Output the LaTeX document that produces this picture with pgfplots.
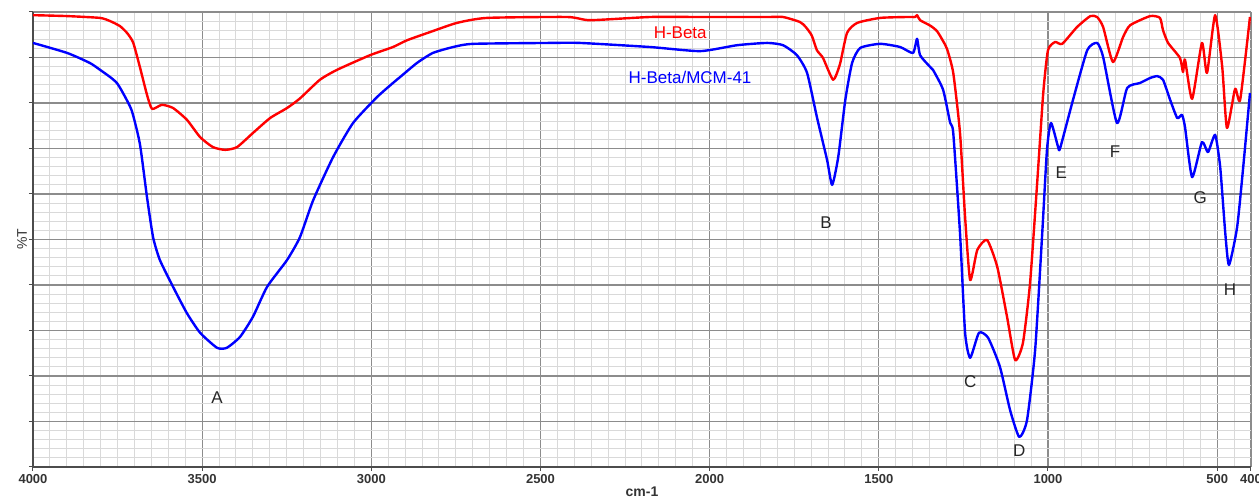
\documentclass[border=0pt]{standalone}
\usepackage{fontspec}
\setmainfont{Liberation Sans}
\usepackage{pgfplots}
\pgfplotsset{compat=1.18}

% FTIR spectra, %T vs wavenumber
\pgfplotstableread{
wn   t
4000 99.3
3899 99.1
3802 98.7
3772 98.0
3743 96.9
3722 95.4
3704 93.3
3684 87.9
3663 81.8
3648 78.7
3619 79.6
3586 78.9
3545 76.3
3506 72.5
3468 70.3
3432 69.7
3397 70.3
3350 73.4
3299 76.7
3249 78.9
3211 81.0
3152 85.1
3101 87.3
3004 90.5
2936 92.3
2894 93.8
2826 95.6
2747 97.6
2658 98.7
2421 98.9
2353 98.2
2176 98.9
2028 98.9
1830 98.9
1783 98.9
1733 97.8
1716 96.7
1698 94.8
1683 91.6
1665 89.9
1635 85.1
1615 88.5
1594 95.4
1564 97.6
1496 98.7
1416 98.9
1393 98.9
1387 99.3
1378 98.2
1348 97.0
1328 95.8
1310 93.6
1298 91.8
1280 86.6
1260 73.4
1245 54.9
1230 41.1
1209 47.7
1180 49.9
1150 44.0
1121 33.0
1097 23.5
1074 27.3
1053 40.4
1032 62.4
1014 82.2
1000 91.6
979  93.4
958  93.0
914  96.7
875  99.1
855  98.9
837  96.7
808  89.0
778  94.5
757  97.1
698  99.1
669  98.7
660  96.0
645  93.2
610  89.9
601  86.8
595  89.5
574  80.9
545  93.2
530  86.6
506  99.3
485  87.9
471  74.5
447  83.1
432  80.7
403  98.9
}\hbeta

\pgfplotstableread{
wn   t
4000 93.2
3899 91.0
3832 88.8
3802 87.3
3772 85.7
3752 84.4
3734 82.2
3708 78.3
3684 71.0
3663 59.3
3645 50.5
3625 45.5
3586 39.6
3545 33.8
3506 29.5
3456 26.2
3427 26.2
3388 28.6
3350 33.0
3308 39.6
3249 45.5
3211 50.5
3172 58.6
3113 68.1
3054 75.6
2983 81.3
2936 84.4
2915 85.7
2865 88.8
2818 91.0
2758 92.3
2699 93.0
2472 93.2
2383 93.2
2176 92.3
2028 91.4
1919 92.7
1830 93.2
1783 92.7
1742 90.5
1712 86.6
1683 76.9
1653 67.5
1638 62.0
1620 68.1
1599 80.7
1579 88.8
1555 92.1
1496 93.0
1437 92.3
1399 91.0
1387 94.1
1378 90.5
1348 87.9
1340 87.3
1310 82.9
1289 75.6
1280 73.4
1260 51.4
1245 29.5
1230 24.0
1204 29.5
1177 28.4
1142 22.0
1112 12.5
1085 6.6
1062 10.3
1038 25.7
1017 51.4
1003 69.7
991  75.6
970  70.3
964  70.1
926  80.7
884  91.6
855  93.2
837  90.1
796  75.6
766  83.3
728  84.4
698  85.5
677  85.9
660  85.1
639  80.7
618  76.7
604  77.4
595  74.7
574  63.7
545  71.4
527  69.2
506  73.0
491  65.9
476  51.4
465  44.4
441  52.7
423  65.9
403  82.2
}\hbetamcm

\definecolor{spred}{RGB}{255,0,0}
\definecolor{spblue}{RGB}{0,0,255}

\begin{document}
\begin{tikzpicture}
\useasboundingbox (-16.5pt,-17.5pt) rectangle (613pt,233.5pt);
\begin{axis}[
    scale only axis,
    width=609pt,
    height=227.5pt,
    x dir=reverse,
    xmin=400, xmax=4000,
    ymin=0, ymax=100,
    axis x line*=bottom,
    axis y line*=left,
    axis line style={black!70, line width=0.6pt},
    xtick={4000,3500,3000,2500,2000,1500,1000,500,400},
    minor xtick={450,500,...,3950},
    ytick={0,10,...,100},
    minor ytick={0,2,...,100},
    yticklabels={},
    tick align=outside,
    major tick length=2pt,
    minor tick length=0pt,
    tick style={black!70, line width=0.5pt},
    grid=both,
    major grid style={black!45, line width=0.6pt},
    minor grid style={black!15, line width=0.5pt},
    xticklabel style={font=\fontsize{6.5}{7}\selectfont\bfseries, text=black!80, inner sep=1.5pt},
    /pgf/number format/assume math mode=true,
    /pgf/number format/1000 sep={},
    xlabel={cm-1},
    xlabel style={at={(axis description cs:0.5,-0.055)}, anchor=center,
        font=\fontsize{7}{8}\selectfont\bfseries, text=black!80},
    ylabel={\%T},
    ylabel style={at={(axis description cs:-0.009,0.5)}, anchor=center,
        font=\fontsize{7}{8}\selectfont, text=black!80},
    clip=true,
]
\addplot[spred, line width=1.2pt, smooth, tension=0.35, line join=round] table[x=wn, y=t] {\hbeta};
\addplot[spblue, line width=1.2pt, smooth, tension=0.35, line join=round] table[x=wn, y=t] {\hbetamcm};

\node[text=spred, font=\fontsize{8.5}{9}\selectfont] at (axis cs:2087,95.4) {H-Beta};
\node[text=spblue, font=\fontsize{8.5}{9}\selectfont] at (axis cs:2058,85.7) {H-Beta/MCM-41};

\begin{scope}[every node/.style={font=\fontsize{8.5}{9}\selectfont, text=black!85}]
\node at (axis cs:3456,15.2) {A};
\node at (axis cs:1656,53.8) {B};
\node at (axis cs:1230,18.7) {C};
\node at (axis cs:1085,3.5) {D};
\node at (axis cs:961,64.6) {E};
\node at (axis cs:802,69.2) {F};
\node at (axis cs:550,59.1) {G};
\node at (axis cs:462,38.9) {H};
\end{scope}
\end{axis}
\end{tikzpicture}
\end{document}
